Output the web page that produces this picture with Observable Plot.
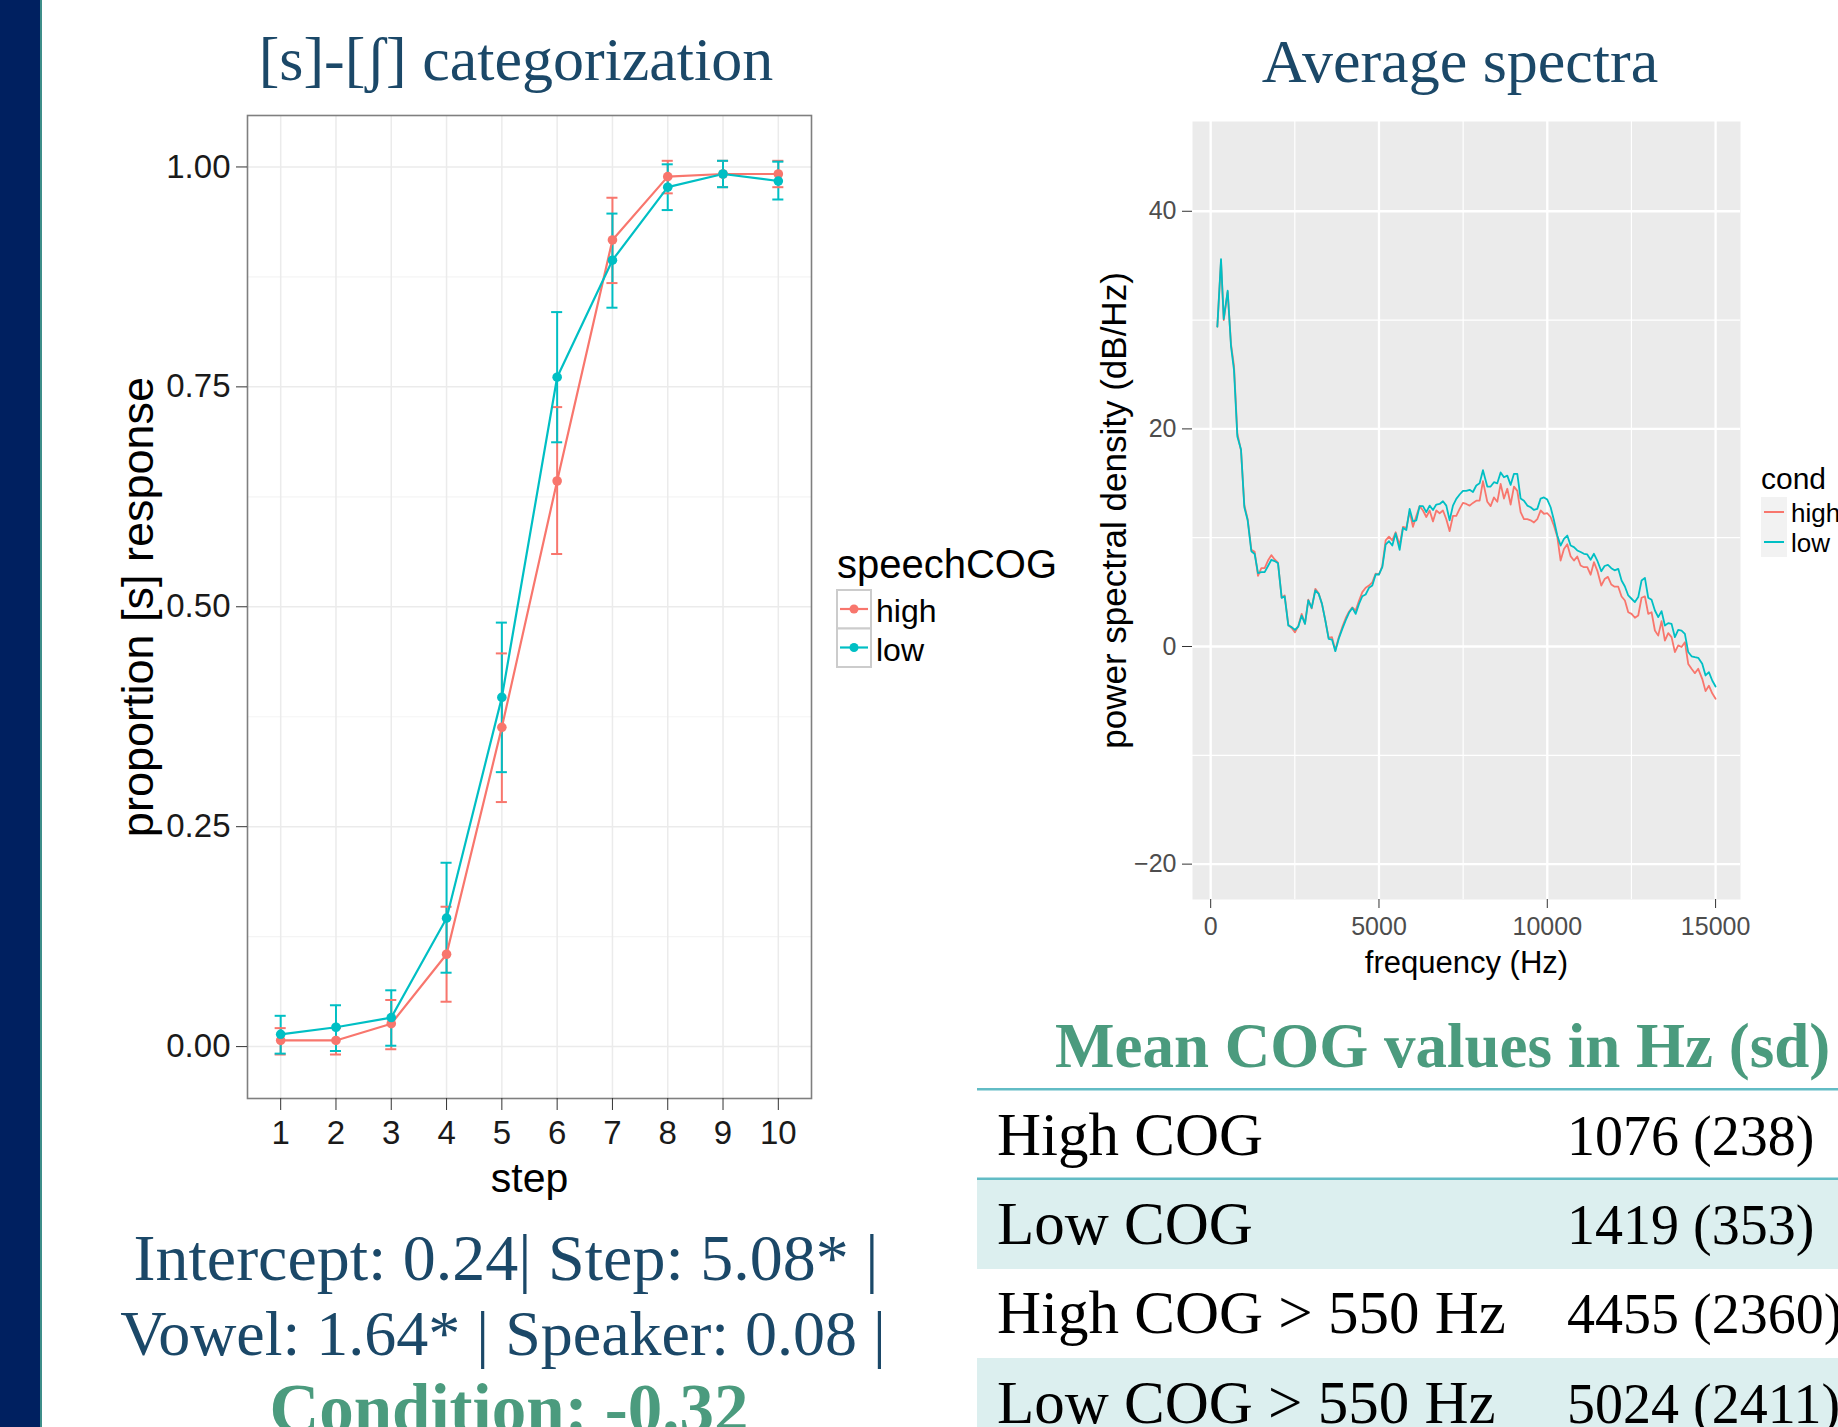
<!DOCTYPE html>
<html><head><meta charset="utf-8">
<script src="https://cdn.jsdelivr.net/npm/d3@7"></script>
<script src="https://cdn.jsdelivr.net/npm/@observablehq/plot@0.6"></script>
<style>
html,body{margin:0;padding:0;background:#fff;}
body{width:1838px;height:1427px;overflow:hidden;position:relative;}
#bar{position:absolute;left:0;top:0;width:40px;height:1427px;background:#002060;}
#barline{position:absolute;left:40px;top:0;width:2px;height:1427px;background:#3f8f8a;}
#left{position:absolute;left:100px;top:100px;width:760px;height:1110px;}
#right{position:absolute;left:1060px;top:100px;width:778px;height:900px;}
#overlay{position:absolute;left:0;top:0;}
</style></head><body>
<div id="bar"></div><div id="barline"></div>
<div id="left"></div><div id="right"></div>
<script>
// ---------- data ----------
const conds = ["high", "low"];
const condColors = ["#F8766D", "#00BFC4"];

const steps = [1, 2, 3, 4, 5, 6, 7, 8, 9, 10];
const highMean = [0.007, 0.007, 0.026, 0.105, 0.363, 0.643, 0.917, 0.989, 0.992, 0.992];
const highLo   = [-0.009, -0.009, -0.003, 0.051, 0.278, 0.560, 0.868, 0.970, 0.977, 0.977];
const highHi   = [0.021, 0.021, 0.053, 0.159, 0.447, 0.727, 0.965, 1.007, 1.007, 1.007];
const lowMean  = [0.014, 0.022, 0.033, 0.146, 0.397, 0.761, 0.894, 0.977, 0.992, 0.984];
const lowLo    = [-0.008, -0.005, 0.001, 0.084, 0.312, 0.687, 0.840, 0.951, 0.977, 0.963];
const lowHi    = [0.035, 0.047, 0.064, 0.209, 0.482, 0.835, 0.947, 1.003, 1.007, 1.006];
const catYTicks = [0, 0.25, 0.5, 0.75, 1];
const catYMinor = [0.125, 0.375, 0.625, 0.875];

const freqs = [
  198, 307, 388, 505, 604, 693, 792, 901, 1000, 1099,
  1208, 1307, 1406, 1505, 1604, 1703, 1802, 1901, 2000, 2109,
  2198, 2307, 2406, 2505, 2604, 2703, 2802, 2901, 3000, 3109,
  3208, 3307, 3406, 3505, 3604, 3703, 3802, 3911, 4010, 4109,
  4208, 4307, 4406, 4505, 4604, 4703, 4802, 4901, 5000, 5099,
  5198, 5297, 5396, 5495, 5614, 5713, 5812, 5911, 6010, 6109,
  6208, 6307, 6406, 6505, 6604, 6703, 6802, 6901, 7000, 7099,
  7198, 7297, 7396, 7495, 7594, 7693, 7792, 7891, 7990, 8089,
  8218, 8317, 8416, 8515, 8614, 8713, 8812, 8911, 9010, 9109,
  9208, 9307, 9406, 9505, 9604, 9703, 9802, 9901, 10000, 10099,
  10198, 10297, 10396, 10495, 10594, 10693, 10792, 10891, 10990, 11089,
  11188, 11287, 11386, 11485, 11604, 11703, 11802, 11901, 12000, 12108,
  12207, 12306, 12405, 12504, 12603, 12702, 12801, 12900, 12999, 13098,
  13197, 13296, 13395, 13494, 13593, 13692, 13791, 13890, 13989, 14088,
  14187, 14286, 14385, 14484, 14603, 14702, 14801, 14900, 14999];
const specLow = [
  29.4, 35.6, 30.1, 32.7, 27.6, 25.4, 19.3, 18.1, 12.8, 11.6,
  8.76, 8.5, 6.74, 6.83, 6.83, 7.4, 7.97, 7.85, 7.66, 4.47,
  4.6, 1.93, 1.78, 1.53, 1.84, 2.85, 2.08, 4.23, 3.55, 5.15,
  4.84, 3.92, 2.39, 0.7, 0.64, -0.43, 0.7, 1.62, 2.39, 3.1,
  3.55, 3.0, 3.92, 4.62, 4.78, 5.39, 5.6, 6.62, 6.62, 7.29,
  9.37, 9.68, 9.28, 10.4, 8.88, 10.9, 10.7, 12.65, 11.5, 11.6,
  12.9, 12.9, 12.35, 12.95, 12.55, 13.05, 13.1, 13.35, 12.95, 11.6,
  12.95, 13.57, 13.97, 14.3, 14.3, 14.4, 14.2, 14.8, 15.0, 16.2,
  14.7, 14.7, 15.1, 15.0, 16.0, 15.55, 15.7, 14.85, 15.87, 15.87,
  13.6, 13.4, 12.95, 12.8, 12.55, 12.65, 13.6, 13.7, 13.5, 12.8,
  11.6, 10.2, 9.28, 9.9, 10.2, 9.28, 9.13, 8.83, 8.68, 8.52,
  8.46, 7.97, 8.52, 7.9, 6.92, 7.4, 7.5, 7.2, 7.0, 7.14,
  6.07, 5.52, 4.69, 4.39, 4.08, 4.54, 6.07, 6.31, 4.48, 4.29,
  3.31, 2.7, 3.25, 1.93, 2.15, 2.08, 0.86, 1.53, 1.47, 1.16,
  -0.51, -0.9, -0.98, -1.04, -1.59, -2.66, -2.36, -3.12, -3.67];
const specHigh = [
  29.4, 35.4, 30.0, 32.6, 27.8, 25.8, 19.6, 18.0, 13.0, 11.7,
  8.9, 8.7, 6.5, 7.2, 7.2, 7.9, 8.4, 8.0, 7.7, 4.5,
  4.7, 2.0, 1.7, 1.3, 1.9, 3.0, 2.1, 4.3, 3.5, 5.3,
  4.9, 3.9, 2.4, 0.8, 0.86, -0.35, 0.8, 1.8, 2.6, 3.2,
  3.6, 3.3, 4.2, 5.0, 5.4, 5.6, 5.9, 6.7, 6.62, 7.4,
  9.75, 10.1, 9.75, 10.5, 9.3, 11.0, 10.9, 12.4, 11.0, 12.0,
  12.9, 12.5, 11.9, 12.5, 11.5, 12.5, 12.25, 12.5, 11.7, 10.6,
  12.0, 12.0, 12.65, 13.2, 13.1, 12.95, 13.2, 13.4, 13.4, 15.2,
  13.3, 12.9, 13.7, 13.3, 14.95, 13.6, 14.5, 13.05, 14.7, 14.3,
  12.35, 11.7, 11.7, 11.6, 11.4, 11.7, 12.5, 12.2, 12.25, 11.9,
  11.1, 10.1, 7.9, 8.97, 9.4, 8.3, 7.9, 8.27, 7.44, 7.29,
  7.29, 6.6, 7.75, 6.98, 5.6, 6.2, 6.4, 5.7, 5.5, 5.5,
  4.6, 4.23, 3.15, 3.0, 2.64, 2.85, 4.48, 4.6, 3.0, 3.15,
  1.47, 1.0, 2.33, 0.55, 1.23, 0.86, -0.51, 0.1, -0.05, 0.4,
  -1.6, -2.05, -2.45, -2.05, -2.97, -4.1, -3.6, -4.3, -4.8];
const specXTicks = [0, 5000, 10000, 15000];
const specXMinor = [2500, 7500, 12500];
const specYTicks = [-20, 0, 20, 40];
const specYMinor = [-10, 10, 30];

const titleLeft = "[s]-[ʃ] categorization";
const titleRight = "Average spectra";
const statsLines = ["Intercept: 0.24| Step: 5.08* |", "Vowel: 1.64* | Speaker: 0.08 |"];
const conditionLine = "Condition: -0.32";
const tableHeading = "Mean COG values in Hz (sd)";
const tableLabels = ["High COG", "Low COG", "High COG > 550 Hz", "Low COG > 550 Hz"];
const tableValues = ["1076 (238)", "1419 (353)", "4455 (2360)", "5024 (2411)"];

// ---------- styles ----------
const sans = "'Liberation Sans', Arial, Helvetica, sans-serif";
const serif = "'Liberation Serif', 'Times New Roman', serif";
const navyText = "#1b4868";
const green = "#4b9b7e";
const teal = "#62bcc5";
const lightRow = "#dcefef";

// ---------- left chart ----------
const catData = [];
steps.forEach((s, i) => catData.push({step: s, cond: "high", p: highMean[i], lo: highLo[i], hi: highHi[i]}));
steps.forEach((s, i) => catData.push({step: s, cond: "low", p: lowMean[i], lo: lowLo[i], hi: lowHi[i]}));

const colorOpt = {type: "ordinal", domain: conds, range: condColors};

const left = Plot.plot({
  width: 760, height: 1110,
  marginLeft: 147, marginRight: 49, marginTop: 15, marginBottom: 112,
  style: {background: "transparent", fontFamily: sans, overflow: "visible"},
  x: {domain: [0.4, 10.6]},
  y: {domain: [-0.059, 1.0585]},
  color: colorOpt,
  marks: [
    Plot.gridY({ticks: catYMinor, stroke: "#f4f4f4", strokeOpacity: 1, strokeWidth: 1.2}),
    Plot.gridY({ticks: catYTicks, stroke: "#ebebeb", strokeOpacity: 1, strokeWidth: 1.5}),
    Plot.gridX({ticks: steps, stroke: "#ebebeb", strokeOpacity: 1, strokeWidth: 1.5}),
    Plot.ruleX(catData, {x: "step", y1: "lo", y2: "hi", stroke: "cond", strokeWidth: 2}),
    Plot.ruleY(catData, {y: "lo", x1: d => d.step - 0.1, x2: d => d.step + 0.1, stroke: "cond", strokeWidth: 2}),
    Plot.ruleY(catData, {y: "hi", x1: d => d.step - 0.1, x2: d => d.step + 0.1, stroke: "cond", strokeWidth: 2}),
    Plot.line(catData, {x: "step", y: "p", stroke: "cond", z: "cond", strokeWidth: 2.2}),
    Plot.dot(catData, {x: "step", y: "p", fill: "cond", r: 4.8}),
    Plot.frame({stroke: "#7f7f7f", strokeWidth: 1.6}),
    Plot.axisY({ticks: catYTicks, tickFormat: d3.format(".2f"), tickSize: 11, tickPadding: 6, fontSize: 33, fill: "#1a1a1a", stroke: "#333", label: null}),
    Plot.axisX({ticks: steps, tickSize: 12, tickPadding: 10, fontSize: 33, fill: "#1a1a1a", stroke: "#333", label: null}),
    Plot.text(["proportion [s] response"], {text: d => d, frameAnchor: "left", textAnchor: "middle", lineAnchor: "middle", rotate: -90, dx: -109, fontSize: 45, fill: "#000"}),
    Plot.text(["step"], {text: d => d, frameAnchor: "bottom", textAnchor: "middle", lineAnchor: "middle", dy: 80, fontSize: 41, fill: "#000"})
  ]
});
document.getElementById("left").appendChild(left);

// ---------- right chart ----------
const specData = [];
freqs.forEach((f, i) => specData.push({f, v: specHigh[i], cond: "high"}));
freqs.forEach((f, i) => specData.push({f, v: specLow[i], cond: "low"}));

const right = Plot.plot({
  width: 778, height: 900,
  marginLeft: 132, marginRight: 98, marginTop: 21, marginBottom: 101,
  style: {background: "transparent", fontFamily: sans, overflow: "visible"},
  x: {domain: [-540, 15740]},
  y: {domain: [-23.25, 48.25]},
  color: colorOpt,
  marks: [
    Plot.frame({fill: "#ebebeb", stroke: "none"}),
    Plot.gridX({ticks: specXMinor, stroke: "#fff", strokeOpacity: 1, strokeWidth: 1.2}),
    Plot.gridY({ticks: specYMinor, stroke: "#fff", strokeOpacity: 1, strokeWidth: 1.2}),
    Plot.gridX({ticks: specXTicks, stroke: "#fff", strokeOpacity: 1, strokeWidth: 2.3}),
    Plot.gridY({ticks: specYTicks, stroke: "#fff", strokeOpacity: 1, strokeWidth: 2.3}),
    Plot.line(specData, {x: "f", y: "v", stroke: "cond", z: "cond", strokeWidth: 1.8}),
    Plot.axisY({ticks: specYTicks, tickFormat: d => String(d).replace("-", "\u2212"), tickSize: 10, tickPadding: 6, fontSize: 25, fill: "#4d4d4d", stroke: "#333", label: null}),
    Plot.axisX({ticks: specXTicks, tickFormat: d => String(d), tickSize: 9, tickPadding: 9, fontSize: 25, fill: "#4d4d4d", stroke: "#333", label: null}),
    Plot.text(["power spectral density (dB/Hz)"], {text: d => d, frameAnchor: "left", textAnchor: "middle", lineAnchor: "middle", rotate: -90, dx: -78, fontSize: 35, fill: "#000"}),
    Plot.text(["frequency (Hz)"], {text: d => d, frameAnchor: "bottom", textAnchor: "middle", lineAnchor: "middle", dy: 64, fontSize: 31, fill: "#000"})
  ]
});
document.getElementById("right").appendChild(right);

// ---------- slide overlay (titles, legends, stats, table) ----------
const svg = d3.select("body").append("svg").attr("id", "overlay")
  .attr("width", 1838).attr("height", 1427);

function txt(x, y, s, opts) {
  const t = svg.append("text").attr("x", x).attr("y", y).text(s)
    .attr("font-family", opts.family || serif)
    .attr("font-size", opts.size)
    .attr("fill", opts.fill || "#000")
    .attr("text-anchor", opts.anchor || "start");
  if (opts.weight) t.attr("font-weight", opts.weight);
  return t;
}

// titles
txt(516, 80, titleLeft, {size: 62, fill: navyText, anchor: "middle"});
txt(1460, 82, titleRight, {size: 62, fill: navyText, anchor: "middle"});

// left legend
txt(837, 578, "speechCOG", {family: sans, size: 40});
conds.forEach((c, i) => {
  const y0 = 590 + i * 38.5;
  svg.append("rect").attr("x", 837).attr("y", y0).attr("width", 34).attr("height", 38.5)
    .attr("fill", "#fff").attr("stroke", "#cccccc").attr("stroke-width", 2);
  svg.append("line").attr("x1", 840).attr("x2", 868).attr("y1", y0 + 19).attr("y2", y0 + 19)
    .attr("stroke", condColors[i]).attr("stroke-width", 2.2);
  svg.append("circle").attr("cx", 854).attr("cy", y0 + 19).attr("r", 4.5).attr("fill", condColors[i]);
  txt(876, y0 + 32, c, {family: sans, size: 32});
});

// right legend
txt(1761, 489, "cond", {family: sans, size: 30});
conds.forEach((c, i) => {
  const y0 = 497 + i * 30;
  svg.append("rect").attr("x", 1761).attr("y", y0).attr("width", 26).attr("height", 30).attr("fill", "#f2f2f2");
  svg.append("line").attr("x1", 1764).attr("x2", 1784).attr("y1", y0 + 15).attr("y2", y0 + 15)
    .attr("stroke", condColors[i]).attr("stroke-width", 2);
  txt(1791, y0 + 25, c, {family: sans, size: 26});
});

// stats text
txt(506, 1280, statsLines[0], {size: 66, fill: navyText, anchor: "middle"});
txt(503, 1355, statsLines[1], {size: 64, fill: navyText, anchor: "middle"});
txt(509, 1432, conditionLine, {size: 69, fill: green, anchor: "middle", weight: "bold"});

// table
txt(1055, 1067, tableHeading, {size: 63, fill: green, weight: "bold"});
const rowTops = [1090, 1179, 1268, 1358];
tableLabels.forEach((lab, i) => {
  if (i % 2 === 1) svg.append("rect").attr("x", 977).attr("y", rowTops[i]).attr("width", 861).attr("height", 90).attr("fill", lightRow);
});
svg.append("rect").attr("x", 977).attr("y", 1088).attr("width", 861).attr("height", 2.5).attr("fill", teal);
svg.append("rect").attr("x", 977).attr("y", 1177.5).attr("width", 861).attr("height", 2.5).attr("fill", teal);
tableLabels.forEach((lab, i) => {
  txt(997, rowTops[i] + 65, lab, {size: 61});
  txt(1567, rowTops[i] + 65, tableValues[i], {size: 56});
});
</script>
</body></html>
